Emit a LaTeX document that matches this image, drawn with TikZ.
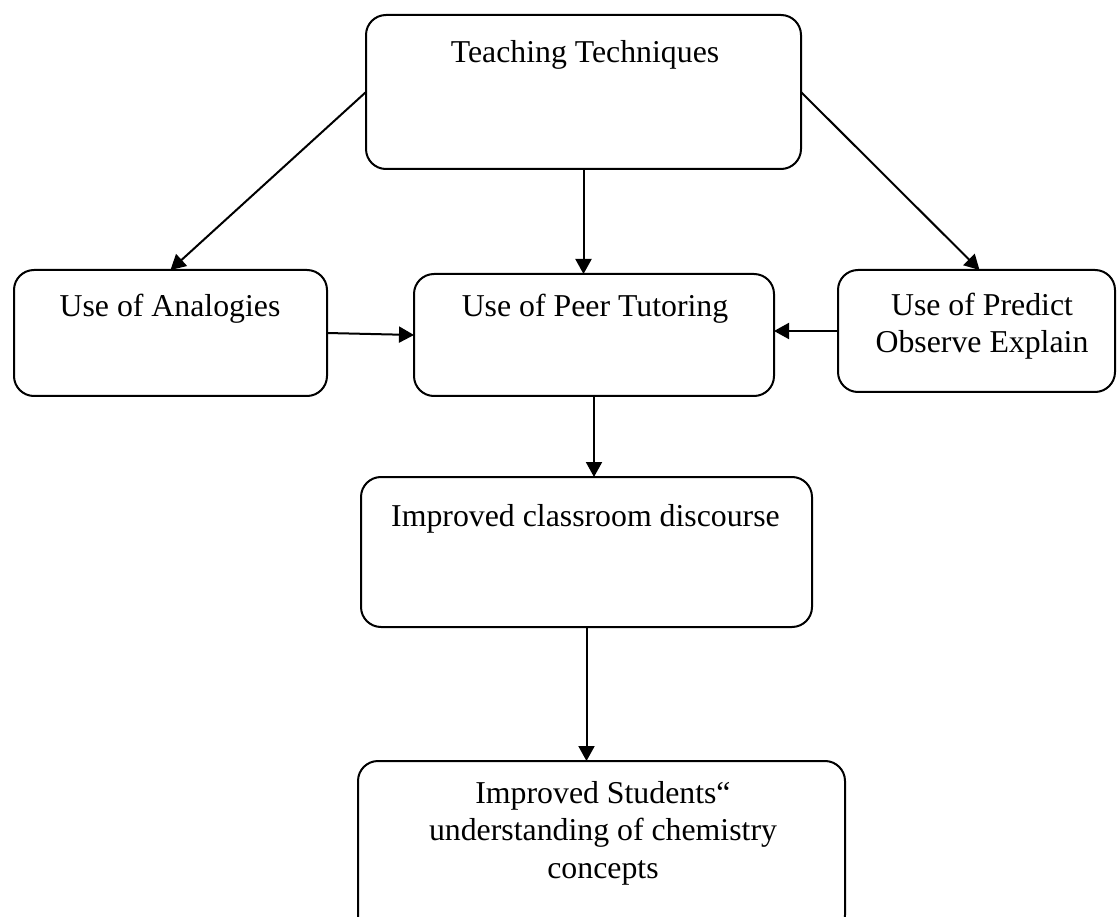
\documentclass[tikz,border=0pt]{standalone}
\usepackage{fontspec}
\setmainfont{Liberation Serif}
\usetikzlibrary{arrows.meta,calc}
\begin{document}
\begin{tikzpicture}[x=1pt,y=-1pt,
  box/.style={draw, line width=2pt, rounded corners=20pt, outer sep=0pt, inner sep=0pt},
  txt/.style={align=center, inner sep=0pt, font=\fontsize{31.8}{37.5}\selectfont, anchor=base},
  arr/.style={line width=2pt, -{Triangle[length=15pt,width=16pt]}}]
\useasboundingbox (0,0) rectangle (1117,917);
% boxes
\node[box, minimum width=435pt, minimum height=154pt] (tt)  at (583.5,92) {};
\node[box, minimum width=313pt, minimum height=126pt] (an)  at (170.5,333) {};
\node[box, minimum width=360pt, minimum height=122pt] (pt)  at (594,335) {};
\node[box, minimum width=277pt, minimum height=122pt] (poe) at (976.5,331) {};
\node[box, minimum width=451pt, minimum height=150pt] (cd)  at (586.5,552) {};
\node[box, minimum width=487pt, minimum height=174pt] (st)  at (601.5,848) {};
% texts (base anchor = baseline of the last line)
\node[txt] (ttt)  at (585,63) {Teaching Techniques};
\node[txt] (ant)  at (170,317) {Use of Analogies};
\node[txt] (ptt)  at (595,317) {Use of Peer Tutoring};
\node[txt] (poet) at (982,353) {Use of Predict\\Observe Explain};
\node[txt] (cdt)  at (585.5,526) {Improved classroom discourse};
\node[txt] (stt)  at (603,878) {Improved Students“\\understanding of chemistry\\concepts};
% connectors
\draw[arr] (tt.west) -- (an.north);
\draw[arr] (tt.east) -- ($(poe.north)+(3,0)$);
\draw[arr] (tt.south) -- (tt.south |- pt.north);
\draw[arr] (an.east) -- (pt.west);
\draw[arr] (poe.west) -- (pt.east |- poe.west);
\draw[arr] (pt.south) -- (pt.south |- cd.north);
\draw[arr] (cd.south) -- (cd.south |- st.north);
\end{tikzpicture}
\end{document}
